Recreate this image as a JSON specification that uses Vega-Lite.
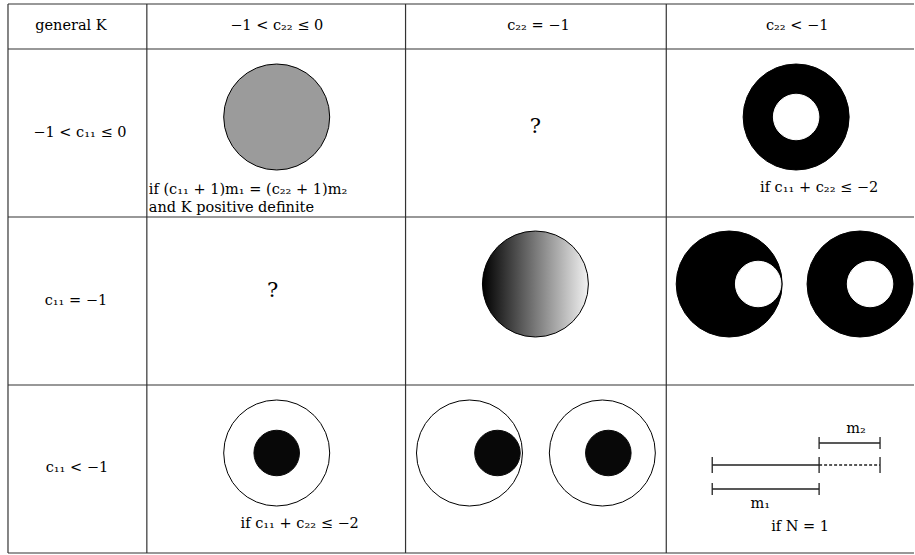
{
  "$schema": "https://vega.github.io/schema/vega-lite/v6.json",
  "width": 915,
  "height": 555,
  "padding": 0,
  "autosize": {"type": "fit", "contains": "padding"},
  "background": "white",
  "config": {"view": {"stroke": null}},
  "datasets": {
    "grid": [
      {"x": 8, "y": 4, "x2": 915, "y2": 4},
      {"x": 8, "y": 49, "x2": 915, "y2": 49},
      {"x": 8, "y": 217, "x2": 915, "y2": 217},
      {"x": 8, "y": 385, "x2": 915, "y2": 385},
      {"x": 8, "y": 553, "x2": 915, "y2": 553},
      {"x": 8, "y": 4, "x2": 8, "y2": 553},
      {"x": 147, "y": 4, "x2": 147, "y2": 553},
      {"x": 406, "y": 4, "x2": 406, "y2": 553},
      {"x": 667, "y": 4, "x2": 667, "y2": 553}
    ],
    "outer": [
      {"cx": 277, "cy": 117, "tone": "gray"},
      {"cx": 797, "cy": 117, "tone": "black"},
      {"cx": 730, "cy": 284, "tone": "black"},
      {"cx": 861, "cy": 284, "tone": "black"},
      {"cx": 277, "cy": 453, "tone": "open"},
      {"cx": 470, "cy": 453, "tone": "open"},
      {"cx": 603, "cy": 453, "tone": "open"}
    ],
    "inner": [
      {"cx": 797, "cy": 117, "tone": "hole"},
      {"cx": 759, "cy": 284, "tone": "hole"},
      {"cx": 871, "cy": 284, "tone": "hole"},
      {"cx": 277, "cy": 453, "tone": "dot"},
      {"cx": 498, "cy": 453, "tone": "dot"},
      {"cx": 609, "cy": 453, "tone": "dot"}
    ],
    "shaded": [
      {"cx": 536, "cy": 284}
    ],
    "segments": [
      {"x": 713, "y": 465, "x2": 820, "y2": 465, "style": "solid"},
      {"x": 820, "y": 465, "x2": 881, "y2": 465, "style": "dotted"},
      {"x": 713, "y": 457, "x2": 713, "y2": 473, "style": "solid"},
      {"x": 820, "y": 457, "x2": 820, "y2": 473, "style": "solid"},
      {"x": 881, "y": 457, "x2": 881, "y2": 473, "style": "solid"},
      {"x": 820, "y": 443, "x2": 881, "y2": 443, "style": "solid"},
      {"x": 820, "y": 437, "x2": 820, "y2": 449, "style": "solid"},
      {"x": 881, "y": 437, "x2": 881, "y2": 449, "style": "solid"},
      {"x": 713, "y": 489, "x2": 820, "y2": 489, "style": "solid"},
      {"x": 713, "y": 483, "x2": 713, "y2": 495, "style": "solid"},
      {"x": 820, "y": 483, "x2": 820, "y2": 495, "style": "solid"}
    ],
    "labels": [
      {"x": 71, "y": 26, "text": "general K"},
      {"x": 277, "y": 26, "text": "−1 < c₂₂ ≤ 0"},
      {"x": 539, "y": 26, "text": "c₂₂ = −1"},
      {"x": 798, "y": 26, "text": "c₂₂ < −1"},
      {"x": 80, "y": 133, "text": "−1 < c₁₁ ≤ 0"},
      {"x": 76, "y": 301, "text": "c₁₁ = −1"},
      {"x": 77, "y": 468, "text": "c₁₁ < −1"},
      {"x": 820, "y": 188, "text": "if c₁₁ + c₂₂ ≤ −2"},
      {"x": 300, "y": 524, "text": "if c₁₁ + c₂₂ ≤ −2"},
      {"x": 857, "y": 429, "text": "m₂"},
      {"x": 761, "y": 504, "text": "m₁"},
      {"x": 801, "y": 527, "text": "if N = 1"}
    ],
    "unknown": [
      {"x": 536, "y": 127, "text": "?"},
      {"x": 273, "y": 291, "text": "?"}
    ],
    "notes": [
      {"x": 149, "y": 190, "text": "if (c₁₁ + 1)m₁ = (c₂₂ + 1)m₂"},
      {"x": 149, "y": 208, "text": "and K positive definite"}
    ]
  },
  "layer": [
    {
      "data": {"name": "grid"},
      "mark": {"type": "rule", "color": "#333333", "strokeWidth": 1.2},
      "encoding": {
        "x": {"field": "x", "type": "quantitative", "scale": {"domain": [0, 915], "nice": false, "zero": false}, "axis": null},
        "y": {"field": "y", "type": "quantitative", "scale": {"domain": [0, 555], "reverse": true, "nice": false, "zero": false}, "axis": null},
        "x2": {"field": "x2"},
        "y2": {"field": "y2"}
      }
    },
    {
      "data": {"name": "outer"},
      "mark": {"type": "point", "shape": "circle", "size": 11236, "strokeWidth": 1, "opacity": 1, "fillOpacity": 1, "strokeOpacity": 1},
      "encoding": {
        "x": {"field": "cx", "type": "quantitative", "scale": {"domain": [0, 915], "nice": false, "zero": false}, "axis": null},
        "y": {"field": "cy", "type": "quantitative", "scale": {"domain": [0, 555], "reverse": true, "nice": false, "zero": false}, "axis": null},
        "fill": {"field": "tone", "type": "nominal", "scale": {"domain": ["gray", "black", "open", "hole", "dot"], "range": ["#9b9b9b", "#000000", "#ffffff", "#ffffff", "#080808"]}, "legend": null},
        "stroke": {"field": "tone", "type": "nominal", "scale": {"domain": ["gray", "black", "open", "hole", "dot"], "range": ["#000000", "#000000", "#000000", "#ffffff", "#080808"]}, "legend": null}
      }
    },
    {
      "data": {"name": "shaded"},
      "mark": {"type": "point", "shape": "circle", "size": 11236, "strokeWidth": 1, "opacity": 1, "stroke": "#000000",
        "fill": {"gradient": "linear", "x1": 0, "y1": 0, "x2": 1, "y2": 0, "stops": [{"offset": 0, "color": "#000000"}, {"offset": 1, "color": "#f2f2f2"}]}},
      "encoding": {
        "x": {"field": "cx", "type": "quantitative", "scale": {"domain": [0, 915], "nice": false, "zero": false}, "axis": null},
        "y": {"field": "cy", "type": "quantitative", "scale": {"domain": [0, 555], "reverse": true, "nice": false, "zero": false}, "axis": null}
      }
    },
    {
      "data": {"name": "inner"},
      "mark": {"type": "point", "shape": "circle", "size": 2070, "strokeWidth": 1, "opacity": 1, "fillOpacity": 1, "strokeOpacity": 1},
      "encoding": {
        "x": {"field": "cx", "type": "quantitative", "scale": {"domain": [0, 915], "nice": false, "zero": false}, "axis": null},
        "y": {"field": "cy", "type": "quantitative", "scale": {"domain": [0, 555], "reverse": true, "nice": false, "zero": false}, "axis": null},
        "fill": {"field": "tone", "type": "nominal", "scale": {"domain": ["gray", "black", "open", "hole", "dot"], "range": ["#9b9b9b", "#000000", "#ffffff", "#ffffff", "#080808"]}, "legend": null},
        "stroke": {"field": "tone", "type": "nominal", "scale": {"domain": ["gray", "black", "open", "hole", "dot"], "range": ["#000000", "#000000", "#000000", "#ffffff", "#080808"]}, "legend": null}
      }
    },
    {
      "data": {"name": "segments"},
      "mark": {"type": "rule", "strokeWidth": 1.3, "color": "#222222"},
      "encoding": {
        "x": {"field": "x", "type": "quantitative", "scale": {"domain": [0, 915], "nice": false, "zero": false}, "axis": null},
        "y": {"field": "y", "type": "quantitative", "scale": {"domain": [0, 555], "reverse": true, "nice": false, "zero": false}, "axis": null},
        "x2": {"field": "x2"},
        "y2": {"field": "y2"},
        "strokeDash": {"field": "style", "type": "nominal", "scale": {"domain": ["solid", "dotted"], "range": [[1, 0], [3, 2]]}, "legend": null}
      }
    },
    {
      "data": {"name": "labels"},
      "mark": {"type": "text", "align": "center", "baseline": "middle", "font": "DejaVu Serif", "fontSize": 14.5, "color": "#000000"},
      "encoding": {
        "x": {"field": "x", "type": "quantitative", "scale": {"domain": [0, 915], "nice": false, "zero": false}, "axis": null},
        "y": {"field": "y", "type": "quantitative", "scale": {"domain": [0, 555], "reverse": true, "nice": false, "zero": false}, "axis": null},
        "text": {"field": "text", "type": "nominal"}
      }
    },
    {
      "data": {"name": "unknown"},
      "mark": {"type": "text", "align": "center", "baseline": "middle", "font": "DejaVu Serif", "fontSize": 21, "color": "#000000"},
      "encoding": {
        "x": {"field": "x", "type": "quantitative", "scale": {"domain": [0, 915], "nice": false, "zero": false}, "axis": null},
        "y": {"field": "y", "type": "quantitative", "scale": {"domain": [0, 555], "reverse": true, "nice": false, "zero": false}, "axis": null},
        "text": {"field": "text", "type": "nominal"}
      }
    },
    {
      "data": {"name": "notes"},
      "mark": {"type": "text", "align": "left", "baseline": "middle", "font": "DejaVu Serif", "fontSize": 14.5, "color": "#000000"},
      "encoding": {
        "x": {"field": "x", "type": "quantitative", "scale": {"domain": [0, 915], "nice": false, "zero": false}, "axis": null},
        "y": {"field": "y", "type": "quantitative", "scale": {"domain": [0, 555], "reverse": true, "nice": false, "zero": false}, "axis": null},
        "text": {"field": "text", "type": "nominal"}
      }
    }
  ]
}
